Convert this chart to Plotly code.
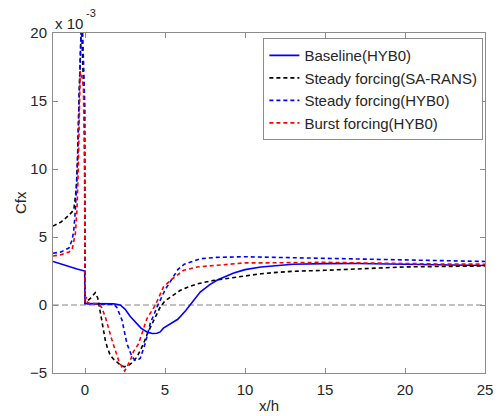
import plotly.graph_objects as go

# Cfx values are in units of 1e-3
base_x = [-2, -1.5, -1, -0.5, -0.02, 0, 0.2, 1, 1.8, 2.2, 2.5, 2.83, 3.2, 3.5, 3.87, 4.2, 4.5, 4.7, 4.9, 5.1,
          5.5, 5.8, 6.3, 6.8, 7.2, 7.8, 8.3, 9.3, 10, 11, 12, 13, 15, 17, 20, 22, 25]
base_y = [3.2, 3.0, 2.8, 2.65, 2.5, 0.1, 0.1, 0.1, 0.08, 0.0, -0.3, -0.85, -1.35, -1.7, -1.98, -2.1, -2.08, -1.98,
          -1.7, -1.55, -1.3, -1.05, -0.4, 0.4, 0.95, 1.5, 1.85, 2.35, 2.6, 2.8, 2.92, 3.0, 3.04, 3.05, 3.0, 2.95, 2.9]

sa_x = [-2, -1.5, -1, -0.7, -0.55, -0.45, -0.38, -0.3, -0.22, -0.15, -0.08, -0.03, 0, 0.15, 0.35, 0.5, 0.64,
        0.8, 0.96, 1.1, 1.27, 1.4, 1.58, 1.8, 2.0, 2.2, 2.45, 2.7, 3.0, 3.25, 3.45, 3.66, 3.9, 4.19, 4.45, 4.7,
        5.0, 5.33, 5.96, 6.5, 7, 8, 8.9, 10, 11, 12, 13, 15, 17, 20, 22, 25]
sa_y = [5.8, 6.1, 6.6, 7.0, 8.5, 11, 15, 19, 21, 18, 15, 14.5, 0.2, 0.3, 0.5, 0.75, 0.9,
        0.5, -0.63, -1.6, -2.6, -3.15, -3.7, -4.0, -4.2, -4.4, -4.55, -4.45, -4.2, -3.8, -3.35, -2.84, -2.1,
        -1.37, -0.7, -0.15, 0.3, 0.59, 1.08, 1.35, 1.55, 1.8, 1.95, 2.18, 2.3, 2.4, 2.48, 2.55, 2.65, 2.8, 2.83, 2.87]

steady_x = [-2, -1.5, -1, -0.8, -0.7, -0.6, -0.5, -0.42, -0.36, -0.3, -0.2, -0.12, -0.06, -0.02, 0, 0.3, 1.0,
            1.8, 2.0, 2.31, 2.62, 2.94, 3.14, 3.3, 3.46, 3.77, 4.08, 4.5, 5.0, 5.3, 5.8, 6.2, 7.2, 8.2, 9.3, 10,
            12, 15, 17, 20, 22, 25]
steady_y = [3.8, 3.9, 4.2, 4.8, 5.5, 7.0, 9.5, 13, 17, 21, 22, 19, 16.5, 15, 0.1, 0.1, 0.1,
            0.05, -0.2, -1.1, -2.84, -3.82, -4.05, -4.05, -3.9, -2.8, -1.35, -0.15, 1.1, 1.7, 2.6, 3.0, 3.4,
            3.5, 3.53, 3.55, 3.5, 3.43, 3.38, 3.29, 3.25, 3.2]

burst_x = [-2, -1.5, -1, -0.8, -0.6, -0.5, -0.42, -0.36, -0.3, -0.2, -0.1, -0.05, -0.02, 0, 0.08, 0.15, 0.3,
           0.85, 1.05, 1.27, 1.69, 2.1, 2.3, 2.48, 2.83, 3.04, 3.35, 3.87, 4.4, 4.9, 5.33, 6.16, 7.0, 8.25, 10,
           11.4, 13, 15, 17, 20, 22, 25]
burst_y = [3.6, 3.7, 3.9, 4.1, 5.3, 7.0, 10, 14, 17.2, 16.8, 16, 12, 10, 0.2, 0.6, 0.2, 0.1,
           0.1, -0.2, -0.88, -2.6, -4.07, -4.55, -4.85, -4.07, -3.4, -2.84, -1.0, 0.0, 1.32, 1.8, 2.55, 2.8, 2.92,
           3.1, 3.1, 3.12, 3.14, 3.1, 3.04, 3.02, 3.0]

names = ["Baseline(HYB0)", "Steady forcing(SA-RANS)", "Steady forcing(HYB0)", "Burst forcing(HYB0)"]
colors = ["#0000ff", "#000000", "#0000ff", "#ff0000"]
dashes = ["solid", "4px,3px", "4px,3px", "4px,3px"]
xs = [base_x, sa_x, steady_x, burst_x]
ys = [base_y, sa_y, steady_y, burst_y]

x_ticks = [0, 5, 10, 15, 20, 25]
y_ticks = [-5, 0, 5, 10, 15, 20]

TXT = "#262626"
FS = 15

fig = go.Figure()
for x, y, n, c, d in zip(xs, ys, names, colors, dashes):
    fig.add_trace(go.Scatter(x=x, y=y, mode="lines", name=n,
                             line=dict(color=c, width=1.6, dash=d)))

fig.add_hline(y=0, line=dict(color="#666666", width=0.8, dash="6px,3px"), layer="below")

axis_common = dict(showline=True, linecolor="#8c8c8c", linewidth=1, mirror="ticks", ticks="inside",
                   ticklen=5, tickcolor="#8c8c8c", showgrid=False, zeroline=False, automargin=False,
                   tickfont=dict(size=FS, color=TXT))

fig.update_xaxes(range=[-2, 25], tickvals=x_ticks, ticklabelstandoff=3, **axis_common)
fig.update_yaxes(range=[-5, 20], tickvals=y_ticks, ticklabelstandoff=2, **axis_common)

# axis titles and exponent label
fig.add_annotation(text="x/h", xref="paper", yref="paper", x=0.5, y=0, yshift=-32, xanchor="center",
                   yanchor="middle", showarrow=False, font=dict(size=FS, color=TXT))
fig.add_annotation(text="Cfx", xref="paper", yref="paper", x=0, xshift=-33, y=0.5, textangle=-90,
                   xanchor="center", yanchor="middle", showarrow=False, font=dict(size=FS, color=TXT))
fig.add_annotation(text="x 10", xref="paper", yref="paper", x=0, y=1, yshift=-1, xanchor="left",
                   yanchor="bottom", showarrow=False, font=dict(size=FS, color=TXT))
fig.add_annotation(text="-3", xref="paper", yref="paper", x=0, xshift=31, y=1, yshift=12, xanchor="left",
                   yanchor="bottom", showarrow=False, font=dict(size=11, color=TXT))

fig.update_layout(
    width=498, height=416,
    margin=dict(l=53, r=13, t=33, b=43),
    paper_bgcolor="white", plot_bgcolor="white",
    font=dict(family="Liberation Sans, Arial, sans-serif", size=FS, color=TXT),
    legend=dict(x=0.487, y=0.985, xanchor="left", yanchor="top", bgcolor="white",
                bordercolor="#8c8c8c", borderwidth=1, font=dict(size=FS, color=TXT),
                itemwidth=30, tracegroupgap=0),
)

fig.write_html("out.html", config={"displayModeBar": False},
               post_script="document.body.style.margin='0';document.body.style.overflow='hidden';")
